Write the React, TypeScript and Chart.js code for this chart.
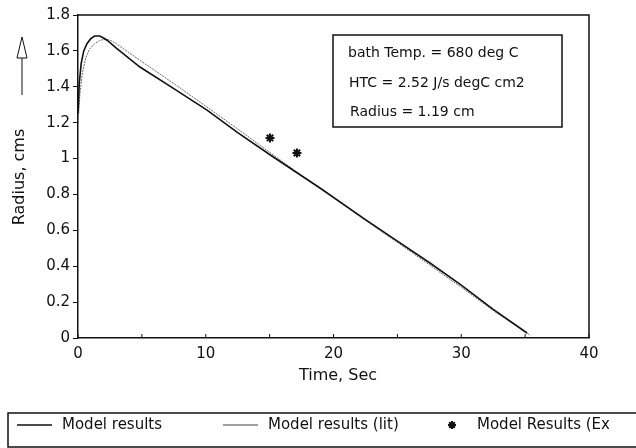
import React, { useEffect, useRef } from "react";
import { Chart, registerables } from "chart.js";

Chart.register(...registerables);

// Model results (solid)
const modelTime = [0, 0.1, 0.25, 0.45, 0.7, 1.0, 1.3, 1.7, 2.0, 2.3, 3, 4.85, 7.5, 10.1, 12.5, 15.26, 18.94, 22.5, 25, 27.55, 30, 32.5, 35.15];
const modelRadius = [1.25, 1.42, 1.53, 1.6, 1.64, 1.668, 1.683, 1.683, 1.672, 1.658, 1.615, 1.51, 1.39, 1.27, 1.145, 1.01, 0.836, 0.66, 0.54, 0.418, 0.295, 0.16, 0.028];

// Model results (lit)
const litTime = [0, 0.15, 0.35, 0.6, 0.9, 1.3, 1.7, 2.1, 2.5, 3, 5, 7.5, 10, 12.5, 15, 17.5, 20, 22.5, 25, 27.5, 30, 32.5, 35.4];
const litRadius = [1.2, 1.36, 1.48, 1.56, 1.61, 1.64, 1.658, 1.665, 1.66, 1.64, 1.54, 1.418, 1.292, 1.165, 1.035, 0.905, 0.783, 0.655, 0.533, 0.408, 0.283, 0.153, 0.015];

// Model Results (Ex)
const expTime = [15.03, 17.14];
const expRadius = [1.115, 1.031];

const seriesLabels = ["Model results", "Model results (lit)", "Model Results (Ex"];
const annotationLines = ["bath Temp. = 680 deg C", "HTC = 2.52 J/s degC cm2", "Radius = 1.19 cm"];
const xTitle = "Time, Sec";
const yTitle = "Radius, cms";

const FONT = "'DejaVu Sans', sans-serif";

const toPoints = (xs: number[], ys: number[]) => xs.map((x, i) => ({ x, y: ys[i] }));

function drawStar(ctx: CanvasRenderingContext2D, x: number, y: number, r: number) {
  ctx.beginPath();
  for (let k = 0; k < 4; k++) {
    const ang = (k * Math.PI) / 4;
    ctx.moveTo(x - r * Math.cos(ang), y - r * Math.sin(ang));
    ctx.lineTo(x + r * Math.cos(ang), y + r * Math.sin(ang));
  }
  ctx.stroke();
}

export default function App() {
  const ref = useRef<HTMLCanvasElement | null>(null);

  useEffect(() => {
    if (!ref.current) return;

    const decor = {
      id: "decor",
      afterDraw(chart: any) {
        const { ctx, chartArea: a, scales } = chart;
        ctx.save();
        // frame top/right
        ctx.strokeStyle = "#111";
        ctx.lineWidth = 1.5;
        ctx.beginPath();
        ctx.moveTo(a.left, a.top);
        ctx.lineTo(a.right, a.top);
        ctx.lineTo(a.right, a.bottom);
        ctx.stroke();
        // inner x ticks
        ctx.lineWidth = 1;
        for (let v = 0; v <= 40; v += 5) {
          const px = scales.x.getPixelForValue(v);
          ctx.beginPath();
          ctx.moveTo(px, a.bottom);
          ctx.lineTo(px, a.bottom - 4);
          ctx.stroke();
        }
        // annotation box
        ctx.lineWidth = 1.5;
        ctx.strokeRect(333, 35, 229, 92);
        ctx.fillStyle = "#111";
        ctx.font = `14px ${FONT}`;
        ctx.textBaseline = "alphabetic";
        ctx.textAlign = "left";
        ctx.fillText(annotationLines[0], 348, 57);
        ctx.fillText(annotationLines[1], 349, 87);
        ctx.fillText(annotationLines[2], 350, 116);
        // axis titles
        ctx.font = `16px ${FONT}`;
        ctx.textAlign = "center";
        ctx.textBaseline = "middle";
        ctx.fillText(xTitle, 338, 376);
        ctx.save();
        ctx.translate(20, 177);
        ctx.rotate(-Math.PI / 2);
        ctx.fillText(yTitle, 0, 0);
        ctx.restore();
        // arrow
        ctx.lineWidth = 1;
        ctx.beginPath();
        ctx.moveTo(22, 58);
        ctx.lineTo(22, 95);
        ctx.stroke();
        ctx.beginPath();
        ctx.moveTo(22, 37);
        ctx.lineTo(17, 58);
        ctx.lineTo(27, 58);
        ctx.closePath();
        ctx.stroke();
        // legend box
        ctx.lineWidth = 1.5;
        ctx.strokeRect(8, 413, 640, 34);
        const ly = 425;
        ctx.font = `15px ${FONT}`;
        ctx.textAlign = "left";
        ctx.textBaseline = "middle";
        ctx.lineWidth = 1.3;
        ctx.strokeStyle = "#111";
        ctx.beginPath();
        ctx.moveTo(17, ly);
        ctx.lineTo(52, ly);
        ctx.stroke();
        ctx.fillText(seriesLabels[0], 62, ly);
        ctx.lineWidth = 1;
        ctx.strokeStyle = "#444";
        ctx.beginPath();
        ctx.moveTo(223, ly);
        ctx.lineTo(258, ly);
        ctx.stroke();
        ctx.fillText(seriesLabels[1], 268, ly);
        ctx.strokeStyle = "#111";
        ctx.lineWidth = 2;
        drawStar(ctx, 452, ly, 4);
        ctx.fillText(seriesLabels[2], 477, ly);
        ctx.restore();
      },
    };

    const chart = new Chart(ref.current, {
      type: "scatter",
      data: {
        datasets: [
          {
            label: seriesLabels[0],
            data: toPoints(modelTime, modelRadius),
            showLine: true,
            borderColor: "#111",
            borderWidth: 1.6,
            pointRadius: 0,
            tension: 0,
          },
          {
            label: seriesLabels[1],
            data: toPoints(litTime, litRadius),
            showLine: true,
            borderColor: "#666",
            borderWidth: 1,
            borderDash: [2, 1],
            pointRadius: 0,
            tension: 0,
          },
          {
            label: seriesLabels[2],
            data: toPoints(expTime, expRadius),
            showLine: false,
            pointStyle: "star",
            pointRadius: 4.5,
            borderColor: "#111",
            backgroundColor: "#111",
            borderWidth: 2,
          },
        ],
      },
      options: {
        animation: false,
        responsive: false,
        layout: { padding: { left: 0, top: 15, right: 47, bottom: 80 } },
        plugins: { legend: { display: false }, tooltip: { enabled: false } },
        scales: {
          x: {
            type: "linear",
            min: 0,
            max: 40,
            afterFit: (s: any) => { s.height = 30; },
            grid: { display: true, drawOnChartArea: false, drawTicks: false },
            border: { display: true, color: "#111", width: 1.5 },
            ticks: {
              stepSize: 10,
              padding: 7,
              color: "#111",
              font: { family: FONT, size: 15 },
            },
          },
          y: {
            type: "linear",
            min: 0,
            max: 1.8,
            afterFit: (s: any) => { s.width = 78; },
            grid: { display: true, drawOnChartArea: false, drawTicks: true, tickLength: 5, color: "#111" },
            border: { display: true, color: "#111", width: 1.5 },
            ticks: {
              stepSize: 0.2,
              padding: 3,
              color: "#111",
              font: { family: FONT, size: 15 },
              callback: (v: any) => String(Number(Number(v).toFixed(1))),
            },
          },
        },
      },
      plugins: [decor],
    } as any);

    return () => chart.destroy();
  }, []);

  return (
    <div style={{ position: "fixed", left: 0, top: 0, width: 636, height: 448, background: "#fff" }}>
      <canvas ref={ref} width={636} height={448} />
    </div>
  );
}
